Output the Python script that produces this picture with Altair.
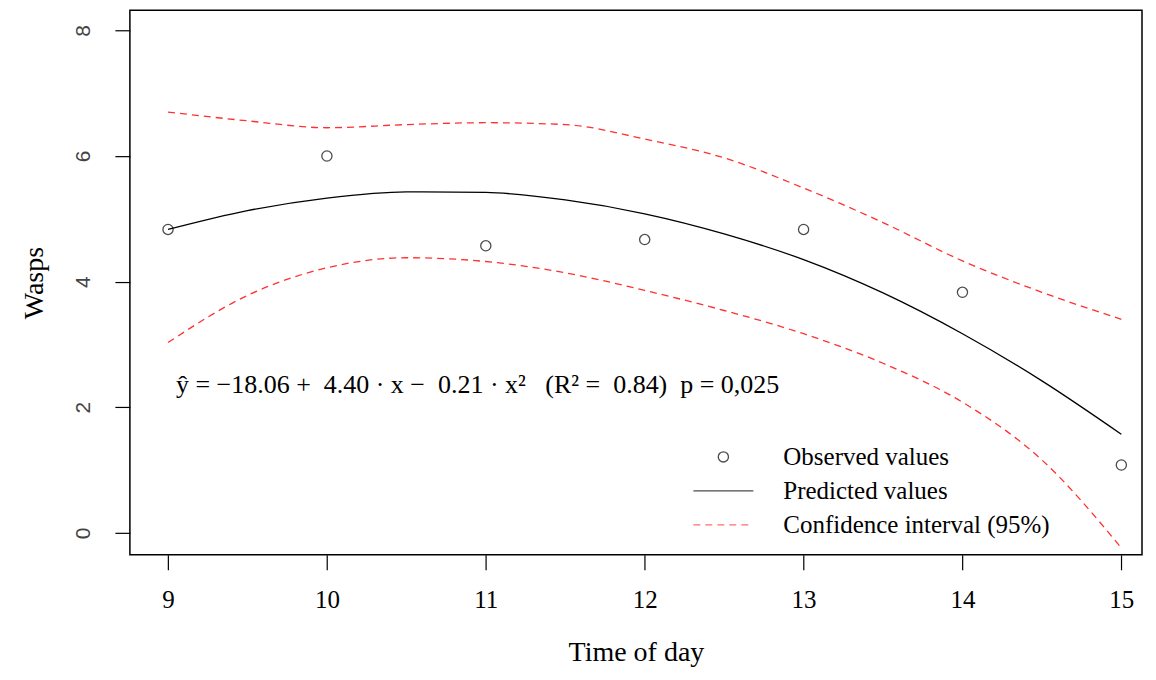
import altair as alt
import pandas as pd

# Observed values
obs_time = [9, 10, 11, 12, 13, 14, 15]
obs_wasps = [4.83, 6.00, 4.57, 4.67, 4.83, 3.83, 1.08]

# Fitted curve and 95% confidence band
fit_time = [9, 9.5, 10, 10.5, 11, 11.5, 12, 12.5, 13, 13.5, 14, 14.5, 15]
predicted = [4.83, 5.13, 5.33, 5.43, 5.42, 5.30, 5.08, 4.76, 4.35, 3.82, 3.17, 2.42, 1.57]
upper_ci = [6.70, 6.56, 6.45, 6.50, 6.53, 6.50, 6.27, 5.97, 5.49, 4.94, 4.33, 3.83, 3.40]
lower_ci = [3.03, 3.78, 4.22, 4.38, 4.32, 4.14, 3.86, 3.54, 3.17, 2.70, 2.08, 1.16, -0.24]

legend_labels = ["Observed values", "Predicted values", "Confidence interval (95%)"]
NB = "\u00a0"
equation = [f"ŷ{NB}={NB}−18.06{NB}+{NB}{NB}4.40{NB}·{NB}x{NB}−{NB}{NB}0.21{NB}·{NB}x²{NB}{NB}{NB}(R²{NB}={NB}{NB}0.84){NB}{NB}p{NB}={NB}0,025"]
eq_pos_x = [9.05]
eq_pos_y = [2.35]

x_ticks = [9, 10, 11, 12, 13, 14, 15]
y_ticks = [0, 2, 4, 6, 8]

obs_df = pd.DataFrame({"t": obs_time, "w": obs_wasps, "series": legend_labels[0]})
fit_df = pd.DataFrame({"t": fit_time, "pred": predicted, "up": upper_ci, "lo": lower_ci})
eq_df = pd.DataFrame({"t": eq_pos_x, "w": eq_pos_y, "label": equation})

xscale = alt.Scale(domain=[8.76, 15.13], nice=False, zero=False)
yscale = alt.Scale(domain=[-0.35, 8.32], nice=False, zero=False)

xaxis = alt.Axis(values=x_ticks, format="d", title="Time of day", grid=False, domain=False,
                 tickSize=15, tickColor="black", tickWidth=1.2,
                 labelFont="Liberation Serif", labelFontSize=25, labelColor="black",
                 labelPadding=18, titleFont="Liberation Serif", titleFontSize=28,
                 titleFontWeight="normal", titleColor="black", titlePadding=26)
yaxis = alt.Axis(values=y_ticks, format="d", title="Wasps", grid=False, domain=False,
                 tickSize=15, tickColor="black", tickWidth=1.2,
                 labelFont="Liberation Sans", labelFontSize=21, labelColor="#444444",
                 labelAngle=270, labelAlign="center", labelBaseline="bottom",
                 labelPadding=21, titleFont="Liberation Serif", titleFontSize=28,
                 titleFontWeight="normal", titleColor="black", titlePadding=24)

circle_path = "M-0.34,0A0.34,0.34,0,1,1,0.34,0A0.34,0.34,0,1,1,-0.34,0Z"
line_path = "M-2,0L2,0"
dash_path = "M-2,0H-1.54M-1.2,0H-0.74M-0.4,0H0.06M0.4,0H0.86M1.2,0H1.66"

points = alt.Chart(obs_df).mark_point(filled=False, size=900, strokeWidth=1.3).encode(
    x=alt.X("t:Q", scale=xscale, axis=xaxis),
    y=alt.Y("w:Q", scale=yscale, axis=yaxis),
    color=alt.Color("series:N",
                    scale=alt.Scale(domain=legend_labels, range=["black", "black", "#ff3030"]),
                    legend=alt.Legend(title=None, orient="none", legendX=578, legendY=431,
                                      symbolSize=900, symbolStrokeWidth=1.3,
                                      labelFont="Liberation Serif", labelFontSize=25,
                                      labelColor="black", labelOffset=44, rowPadding=5,
                                      labelLimit=500)),
    shape=alt.Shape("series:N",
                    scale=alt.Scale(domain=legend_labels, range=[circle_path, line_path, dash_path])),
)

pred_line = alt.Chart(fit_df).mark_line(color="black", strokeWidth=1.3, interpolate="monotone").encode(
    x=alt.X("t:Q", scale=xscale), y=alt.Y("pred:Q", scale=yscale))
up_line = alt.Chart(fit_df).mark_line(color="#ff3030", strokeWidth=1.3, strokeDash=[7, 5],
                                      interpolate="monotone").encode(
    x=alt.X("t:Q", scale=xscale), y=alt.Y("up:Q", scale=yscale))
lo_line = alt.Chart(fit_df).mark_line(color="#ff3030", strokeWidth=1.3, strokeDash=[7, 5],
                                      interpolate="monotone").encode(
    x=alt.X("t:Q", scale=xscale), y=alt.Y("lo:Q", scale=yscale))

eq_text = alt.Chart(eq_df).mark_text(align="left", baseline="middle", font="Liberation Serif",
                                     fontSize=26, color="black").encode(
    x=alt.X("t:Q", scale=xscale), y=alt.Y("w:Q", scale=yscale), text="label:N")

chart = alt.layer(pred_line, up_line, lo_line, points, eq_text).properties(
    width=1013, height=545,
    padding={"left": 13, "top": 2, "right": 6, "bottom": 5},
    background="white",
).configure_view(stroke="black", strokeWidth=1.5)

chart.save("out.html", embed_options={"renderer": "svg", "actions": False})
